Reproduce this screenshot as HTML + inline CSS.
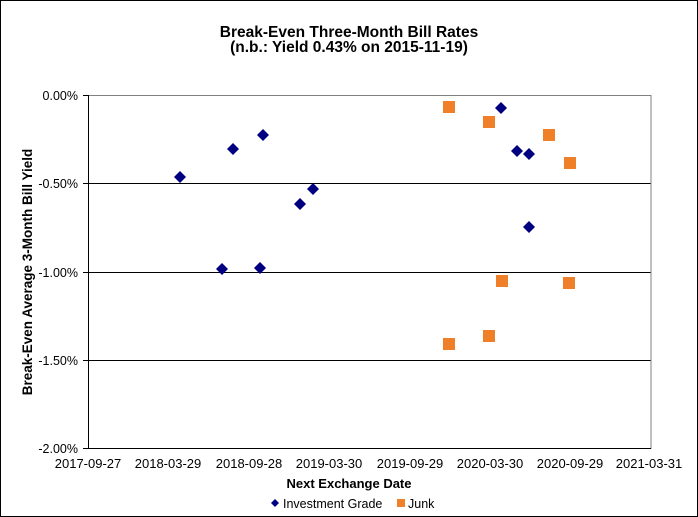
<!DOCTYPE html><html><head><style>body{margin:0}svg{display:block;font-family:"Liberation Sans",Arial,sans-serif}</style></head><body>
<svg width="698" height="517" viewBox="0 0 698 517">
<rect x="0.5" y="0.5" width="697" height="516" fill="#fff" stroke="#000"/>
<text x="349" y="37" font-size="15.5" font-weight="bold" text-anchor="middle">Break-Even Three-Month Bill Rates</text>
<text x="349" y="52" font-size="15.5" font-weight="bold" text-anchor="middle">(n.b.: Yield  0.43% on 2015-11-19)</text>
<g stroke="#000" stroke-width="1">
<line x1="88" y1="183.5" x2="651" y2="183.5"/><line x1="88" y1="272.5" x2="651" y2="272.5"/><line x1="88" y1="360.5" x2="651" y2="360.5"/>
<rect x="88.5" y="95.5" width="562.5" height="353" fill="none" stroke="#808080"/>
<line x1="88.5" y1="95" x2="88.5" y2="449"/><line x1="88" y1="448.5" x2="651" y2="448.5"/>
<line x1="83" y1="95.5" x2="88" y2="95.5"/><line x1="83" y1="183.5" x2="88" y2="183.5"/><line x1="83" y1="272.5" x2="88" y2="272.5"/><line x1="83" y1="360.5" x2="88" y2="360.5"/><line x1="83" y1="448.5" x2="88" y2="448.5"/>
</g>
<g font-size="12.5" text-anchor="end"><text x="78" y="100">0.00%</text><text x="78" y="188">-0.50%</text><text x="78" y="277">-1.00%</text><text x="78" y="365">-1.50%</text><text x="78" y="453">-2.00%</text></g>
<g font-size="13" text-anchor="middle"><text x="88" y="468">2017-09-27</text><text x="168" y="468">2018-03-29</text><text x="249" y="468">2018-09-28</text><text x="329" y="468">2019-03-30</text><text x="410" y="468">2019-09-29</text><text x="490" y="468">2020-03-30</text><text x="570" y="468">2020-09-29</text><text x="649" y="468">2021-03-31</text></g>
<text x="349" y="488" font-size="13" font-weight="bold" text-anchor="middle">Next Exchange Date</text>
<text transform="translate(32,272) rotate(-90)" font-size="13.5" font-weight="bold" text-anchor="middle">Break-Even Average 3-Month Bill Yield</text>
<g fill="#000080">
<path d="M180 171l6 6-6 6-6-6z"/><path d="M222 263l6 6-6 6-6-6z"/><path d="M233 143l6 6-6 6-6-6z"/><path d="M260 262l6 6-6 6-6-6z"/><path d="M263 129l6 6-6 6-6-6z"/><path d="M300 198l6 6-6 6-6-6z"/><path d="M313 183l6 6-6 6-6-6z"/><path d="M501 102l6 6-6 6-6-6z"/><path d="M517 145l6 6-6 6-6-6z"/><path d="M529 148l6 6-6 6-6-6z"/><path d="M529 221l6 6-6 6-6-6z"/>
<path d="M275 499l4 4-4 4-4-4z"/>
</g>
<g fill="#f07f2a">
<rect x="443" y="101" width="12" height="12"/><rect x="483" y="116" width="12" height="12"/><rect x="496" y="275" width="12" height="12"/><rect x="483" y="330" width="12" height="12"/><rect x="443" y="338" width="12" height="12"/><rect x="543" y="129" width="12" height="12"/><rect x="564" y="157" width="12" height="12"/><rect x="563" y="277" width="12" height="12"/>
<rect x="397" y="499" width="8" height="8"/>
</g>
<g font-size="12.5"><text x="283" y="508">Investment Grade</text><text x="408" y="508">Junk</text></g>
</svg></body></html>
